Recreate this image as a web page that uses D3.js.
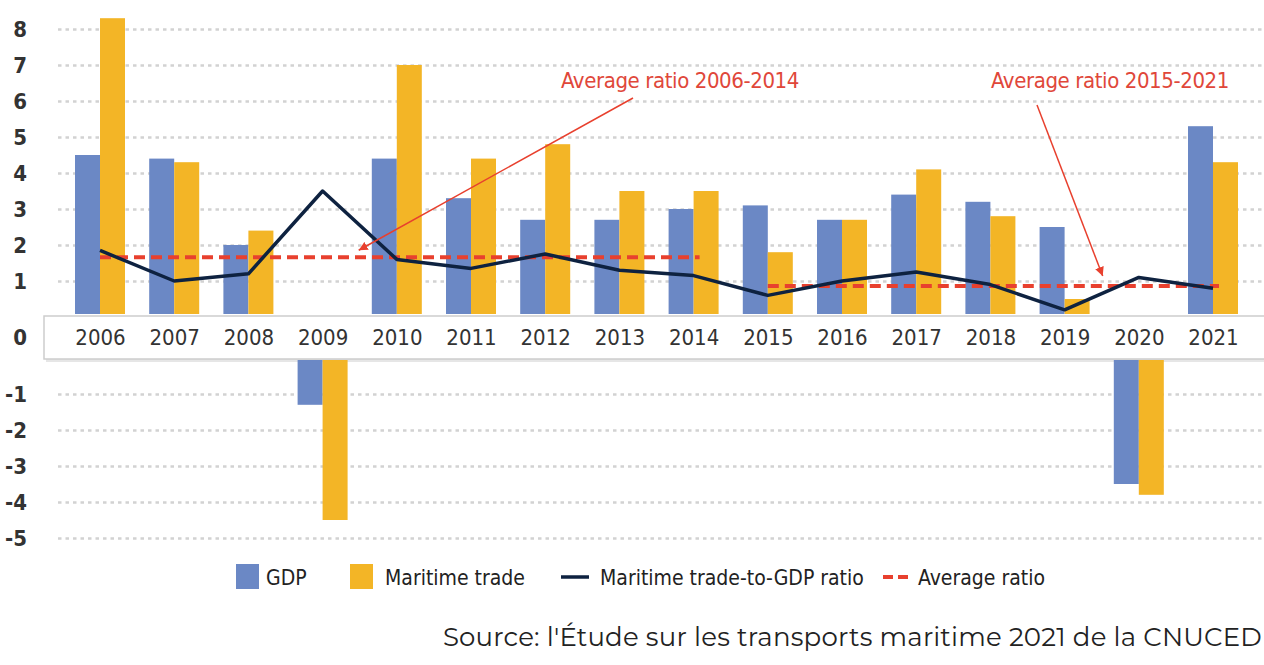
<!DOCTYPE html>
<html>
<head>
<meta charset="utf-8">
<script src="https://cdn.jsdelivr.net/npm/d3@7"></script>
<style>
  body { margin: 0; background: #fff; }
  svg { display: block; }
  .narrow { font-family: "DejaVu Sans Condensed", "DejaVu Sans", sans-serif; font-stretch: condensed; }
</style>
</head>
<body>
<script>
var years = ["2006", "2007", "2008", "2009", "2010", "2011", "2012", "2013",
             "2014", "2015", "2016", "2017", "2018", "2019", "2020", "2021"];
var gdp   = [4.5, 4.4, 2.0, -1.3, 4.4, 3.3, 2.7, 2.7, 3.0, 3.1, 2.7, 3.4, 3.2, 2.5, -3.5, 5.3];
var trade = [8.3, 4.3, 2.4, -4.5, 7.0, 4.4, 4.8, 3.5, 3.5, 1.8, 2.7, 4.1, 2.8, 0.5, -3.8, 4.3];
var ratio = [1.85, 1.0, 1.2, 3.5, 1.6, 1.35, 1.75, 1.3, 1.15, 0.6, 1.0, 1.25, 0.9, 0.2, 1.1, 0.8];
var avgFrom  = ["2006", "2015"];
var avgTo    = ["2014", "2021"];
var avgValue = [1.66, 0.86];
var avgLabel = ["Average ratio 2006-2014", "Average ratio 2015-2021"];
var posTicks = [1, 2, 3, 4, 5, 6, 7, 8];
var negTicks = [-1, -2, -3, -4, -5];
var legendLabels = ["GDP", "Maritime trade", "Maritime trade-to-GDP ratio", "Average ratio"];

var width = 1264;
var height = 665;
var gridLeft = 58;
var barWidth = 25;
var blue = "#6b88c5";
var yellow = "#f3b526";
var navy = "#0e2240";
var red = "#e8402e";

var svg = d3.select("body").append("svg")
            .attr("width", width)
            .attr("height", height);

// split axis: positive part above the year band, negative part below
var yPos = d3.scaleLinear().domain([0, 8]).range([317, 29]);
var yNeg = d3.scaleLinear().domain([-5, 0]).range([538, 358]);
var y = function(v) { return v >= 0 ? yPos(v) : yNeg(v); };
var x = d3.scalePoint().domain(years).range([100, 1213]);

// gridlines + tick labels
[[yPos, posTicks], [yNeg, negTicks]].forEach(function(p) {
    var g = svg.append("g")
       .attr("class", "narrow")
       .attr("transform", "translate(" + gridLeft + ",0)")
       .call(d3.axisLeft(p[0]).tickValues(p[1]).tickFormat(function(d) { return String(d); })
               .tickSize(-(width - gridLeft)).tickPadding(31));
    g.select(".domain").remove();
    g.selectAll("line").attr("stroke", "#d2d2d2").attr("stroke-width", 2.5).attr("stroke-dasharray", "3.5,4");
    g.selectAll("text").attr("fill", "#333").attr("font-size", 22).attr("font-weight", "bold");
});

// year band (the zero of the chart)
var bandTop = yPos(0) - 1;
var bandBottom = yNeg(0) + 1;
svg.append("rect")
   .attr("x", 46).attr("y", bandTop + 3)
   .attr("width", width).attr("height", bandBottom - bandTop)
   .attr("fill", "#e6e6e6");
svg.append("rect")
   .attr("x", 44).attr("y", bandTop)
   .attr("width", width).attr("height", bandBottom - bandTop)
   .attr("fill", "#fff")
   .attr("stroke", "#cdcdcd")
   .attr("stroke-width", 1.5);
svg.append("text")
   .attr("class", "narrow")
   .attr("x", 27).attr("y", (bandTop + bandBottom) / 2)
   .attr("dy", "0.35em")
   .attr("text-anchor", "end")
   .attr("font-size", 22).attr("font-weight", "bold")
   .attr("fill", "#333")
   .text("0");

var xAxis = svg.append("g")
   .attr("class", "narrow")
   .attr("transform", "translate(0," + ((bandTop + bandBottom) / 2) + ")")
   .call(d3.axisBottom(x).tickSize(0).tickPadding(0));
xAxis.select(".domain").remove();
xAxis.selectAll("text")
     .attr("y", 0).attr("dy", "0.36em")
     .attr("font-size", 22).attr("fill", "#333");

// bars
var bar = function(values, offset, color) {
    svg.append("g").selectAll("rect")
       .data(values)
       .enter()
       .append("rect")
       .attr("x", function(d, i) { return x(years[i]) + offset; })
       .attr("y", function(d) { return d >= 0 ? y(d) : yNeg(0) + 2; })
       .attr("width", barWidth)
       .attr("height", function(d) { return d >= 0 ? yPos(0) - 3 - y(d) : y(d) - yNeg(0) - 2; })
       .attr("fill", color);
};
bar(gdp, -barWidth, blue);
bar(trade, 0, yellow);

// average ratio lines
avgValue.forEach(function(v, i) {
    svg.append("line")
       .attr("x1", x(avgFrom[i])).attr("x2", x(avgTo[i]) + 6)
       .attr("y1", yPos(v)).attr("y2", yPos(v))
       .attr("stroke", red).attr("stroke-width", 4)
       .attr("stroke-dasharray", "11,6");
});

// ratio line
svg.append("path")
   .datum(ratio)
   .attr("d", d3.line().x(function(d, i) { return x(years[i]); }).y(function(d) { return yPos(d); }))
   .attr("fill", "none")
   .attr("stroke", navy)
   .attr("stroke-width", 3.5)
   .attr("stroke-linejoin", "round");

// annotations
svg.append("defs").append("marker")
   .attr("id", "arrow")
   .attr("viewBox", "0 0 10 10")
   .attr("refX", 10).attr("refY", 5)
   .attr("markerWidth", 9).attr("markerHeight", 9)
   .attr("markerUnits", "userSpaceOnUse")
   .attr("orient", "auto")
   .append("path")
   .attr("d", "M0,0L10,5L0,10z")
   .attr("fill", red);

var labelX = [680, 1110];
var arrowFrom = [[633, 98], [1037, 105]];
var arrowTo = [[(x("2009") + x("2010")) / 2 - 1, yPos(avgValue[0]) - 7],
               [(x("2019") + x("2020")) / 2 + 1, yPos(avgValue[1]) - 10]];
avgLabel.forEach(function(t, i) {
    svg.append("text")
       .attr("class", "narrow")
       .attr("x", labelX[i]).attr("y", 88)
       .attr("text-anchor", "middle")
       .attr("font-size", 22)
       .attr("letter-spacing", -0.4)
       .attr("fill", "#e0473a")
       .text(t);
    svg.append("line")
       .attr("x1", arrowFrom[i][0]).attr("y1", arrowFrom[i][1])
       .attr("x2", arrowTo[i][0]).attr("y2", arrowTo[i][1])
       .attr("stroke", red).attr("stroke-width", 1.5)
       .attr("marker-end", "url(#arrow)");
});

// legend
var legend = svg.append("g").attr("class", "narrow");
var legendX = [236, 350, 561, 883];
var textX = [266, 385, 600, 918];
legend.append("rect").attr("x", legendX[0]).attr("y", 564).attr("width", 23).attr("height", 25).attr("fill", blue);
legend.append("rect").attr("x", legendX[1]).attr("y", 564).attr("width", 23).attr("height", 25).attr("fill", yellow);
legend.append("line").attr("x1", legendX[2]).attr("x2", legendX[2] + 28).attr("y1", 577).attr("y2", 577)
      .attr("stroke", navy).attr("stroke-width", 3.5);
legend.append("line").attr("x1", legendX[3]).attr("x2", legendX[3] + 25).attr("y1", 577).attr("y2", 577)
      .attr("stroke", red).attr("stroke-width", 4).attr("stroke-dasharray", "10,5");
legendLabels.forEach(function(t, i) {
    legend.append("text")
          .attr("x", textX[i]).attr("y", 577)
          .attr("dy", "0.36em")
          .attr("font-size", 21)
          .attr("fill", "#222")
          .text(t);
});

// source
svg.append("text")
   .attr("x", 1262).attr("y", 646)
   .attr("text-anchor", "end")
   .attr("font-family", "Montserrat, 'Open Sans', sans-serif")
   .attr("font-size", 26)
   .attr("letter-spacing", 0.2)
   .attr("fill", "#222")
   .text("Source: l'Étude sur les transports maritime 2021 de la CNUCED");
</script>
</body>
</html>
